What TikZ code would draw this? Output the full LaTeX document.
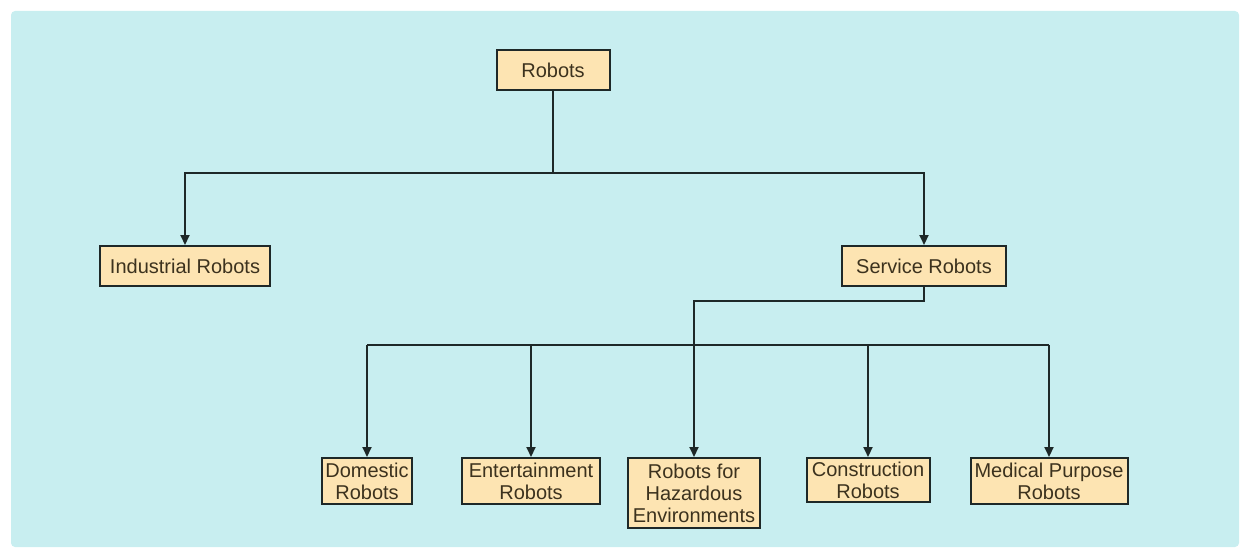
\documentclass[tikz,border=0pt]{standalone}
\usepackage{fontspec}
\setmainfont{Liberation Sans}
\usetikzlibrary{arrows.meta}
\definecolor{bgcyan}{RGB}{200,238,240}
\definecolor{boxfill}{RGB}{253,228,178}
\definecolor{inkline}{RGB}{30,40,40}
\definecolor{inktext}{RGB}{60,50,30}
\tikzset{
  robobox/.style = {draw=inkline, line width=1pt, fill=boxfill, text=inktext,
    align=center, inner sep=1pt, font=\fontsize{10}{11}\selectfont},
  link/.style = {draw=inkline, line width=1pt},
  linkarrow/.style = {link, -{Triangle[length=5pt,width=4.5pt]}}
}

\begin{document}
\begin{tikzpicture}[x=0.5pt, y=-0.5pt]
% 全体の枠と背景
\useasboundingbox (0,0) rectangle (1246,551);
\fill[bgcyan, rounded corners=2pt] (11,11) rectangle (1239,547);

% 上の段
\node[robobox, minimum width=56.5pt, minimum height=20pt] (robots) at (553,70) {Robots};
\node[robobox, minimum width=85pt, minimum height=20pt] (industrial) at (185,266) {Industrial Robots};
\node[robobox, minimum width=82pt, minimum height=20pt] (service) at (924,266) {Service Robots};

% 下の段(上端をそろえる)
\node[robobox, anchor=north, minimum width=45pt, minimum height=23pt] (domestic) at (367,457) {Domestic\\Robots};
\node[robobox, anchor=north, minimum width=69pt, minimum height=23pt] (entertain) at (531,457) {Entertainment\\Robots};
\node[robobox, anchor=north, minimum width=66pt, minimum height=35pt] (hazard) at (694,457) {Robots for\\Hazardous\\Environments};
\node[robobox, anchor=north, minimum width=61.5pt, minimum height=22pt] (construct) at (868,457) {Construction\\Robots};
\node[robobox, anchor=north, minimum width=78.5pt, minimum height=23pt] (medical) at (1049,457) {Medical Purpose\\Robots};

% 分岐点
\coordinate (split1) at (553,173);
\coordinate (split2) at (694,301);
\coordinate (busL) at (367,345);
\coordinate (busR) at (1049,345);

% Robots からの線
\draw[link] (robots) -- (split1);
\draw[linkarrow] (split1) -| (industrial);
\draw[linkarrow] (split1) -| (service);

% Service Robots からの線
\draw[linkarrow] (service) |- (split2) -- (hazard);

% 横線と下向きの矢印
\draw[link] (busL) -- (busR);
\foreach \n in {domestic, entertain, construct, medical}
  \draw[linkarrow] (\n |- busL) -- (\n);
\end{tikzpicture}
\end{document}
